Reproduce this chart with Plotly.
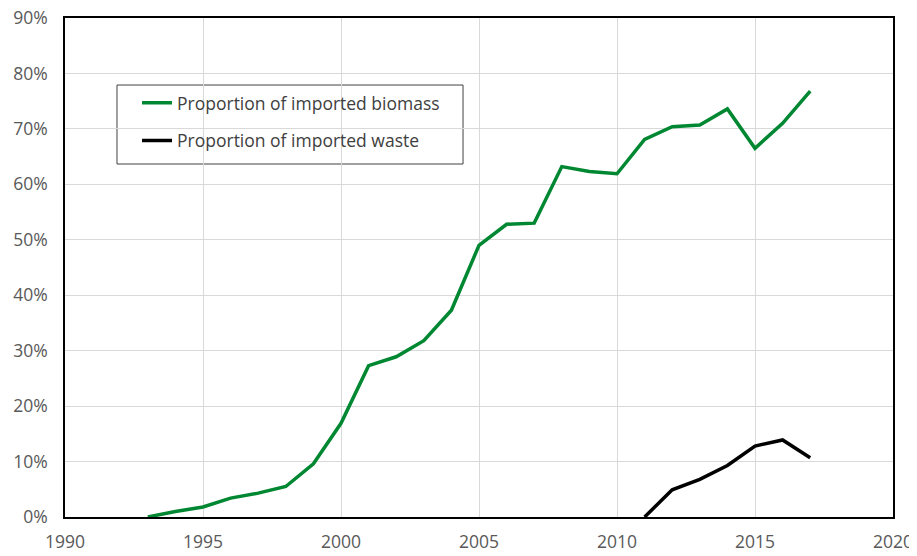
import plotly.graph_objects as go

years_biomass = list(range(1993, 2018))
biomass = [0.0, 1.0, 1.8, 3.4, 4.3, 5.5, 9.6, 16.9, 27.3, 28.9, 31.8, 37.3,
           49.0, 52.8, 53.0, 63.2, 62.3, 61.9, 68.1, 70.4, 70.7, 73.6, 66.5, 71.0, 76.8]
years_waste = list(range(2011, 2018))
waste = [0.0, 4.9, 6.8, 9.3, 12.8, 13.9, 10.7]

x_ticks = [1990, 1995, 2000, 2005, 2010, 2015, 2020]
y_ticks = [0, 10, 20, 30, 40, 50, 60, 70, 80, 90]
y_tick_labels = ["0%", "10%", "20%", "30%", "40%", "50%", "60%", "70%", "80%", "90%"]

green = "rgb(0,135,50)"
font_family = "Open Sans, Noto Sans, sans-serif"

fig = go.Figure()
fig.add_trace(go.Scatter(x=years_biomass, y=biomass, mode="lines",
                         name="Proportion of imported biomass",
                         line=dict(color=green, width=3.5), legendgroup="a"))
fig.add_trace(go.Scatter(x=years_waste, y=waste, mode="lines",
                         name="Proportion of imported waste",
                         line=dict(color="black", width=3.5), legendgroup="b"))

# legend frame (white box with grey border)
fig.add_shape(type="rect", xref="paper", yref="paper",
              x0=0.0628, x1=0.4807, y0=0.7074, y1=0.8657,
              line=dict(color="#404040", width=1), fillcolor="white",
              layer="below")

# page body has an 8px margin, so size the figure to fit the 917x556 window
fig.update_layout(
    width=909, height=548,
    margin=dict(l=57, r=24, t=10, b=39),
    paper_bgcolor="white", plot_bgcolor="white",
    font=dict(family=font_family, size=17.5, color="#595959"),
    showlegend=True,
    legend=dict(x=0.087, y=0.866, xanchor="left", yanchor="top",
                borderwidth=0, bgcolor="rgba(0,0,0,0)",
                font=dict(size=17.5, color="#404040"),
                traceorder="grouped", tracegroupgap=12),
)
fig.update_xaxes(range=[1990, 2020], tickvals=x_ticks, showgrid=True,
                 gridcolor="#d9d9d9", gridwidth=1, showline=True,
                 linecolor="black", linewidth=1.5, mirror=True,
                 zeroline=False, ticks="", ticklabelstandoff=8,
                 automargin=False, ticklabeloverflow="allow")
fig.update_yaxes(range=[0, 90], tickvals=y_ticks, ticktext=y_tick_labels,
                 showgrid=True, gridcolor="#d9d9d9", gridwidth=1, showline=True,
                 linecolor="black", linewidth=1.5, mirror=True,
                 zeroline=False, ticks="", ticklabelstandoff=12,
                 automargin=False, ticklabeloverflow="allow")

fig.write_html("out.html")
